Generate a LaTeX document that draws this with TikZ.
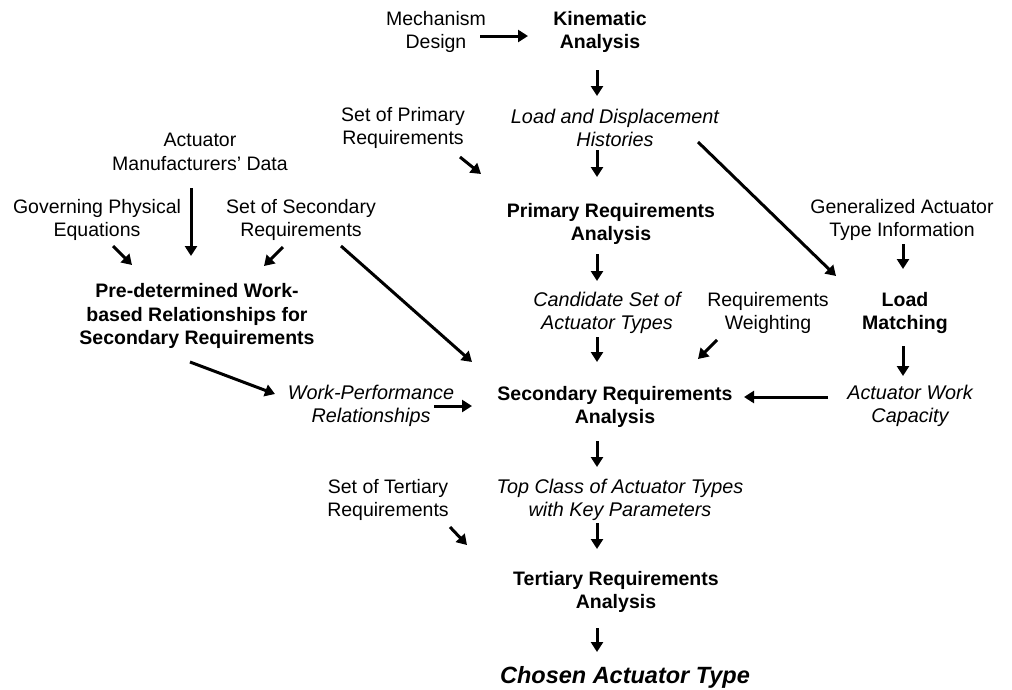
\documentclass[tikz,border=0pt]{standalone}
\usepackage{fontspec}
\setmainfont{Liberation Sans}
\usetikzlibrary{arrows.meta,calc}
\begin{document}
\begin{tikzpicture}[x=1pt,y=-1pt,
  lbl/.style={align=center,inner sep=0pt,font=\fontsize{19.5}{23.5}\selectfont},
  stage/.style={lbl,font=\fontsize{19.5}{23.5}\selectfont\bfseries},
  flow/.style={lbl,font=\fontsize{19.8}{23.5}\selectfont\itshape},
  arr/.style={line width=3pt,-{Triangle[length=10pt,width=12pt]}}]
\useasboundingbox (0,0) rectangle (1012,689);
% inputs and stages
\node[lbl]   (mech) at (436,32)  {Mechanism\\Design};
\node[stage] (kin)  at (600,32)  {Kinematic\\Analysis};
\node[flow]  (load) at (615,128) {Load and Displacement\\Histories};
\node[lbl]   (setp) at (403,128) {Set of Primary\\Requirements};
\node[stage] (prim) at (611,224) {Primary Requirements\\Analysis};
\node[lbl]   (gen)  at (902,220) {Generalized Actuator\\Type Information};
\node[stage] (lm)   at (905,313) {Load\\Matching};
\node[flow]  (awc)  at (910,406) {Actuator Work\\Capacity};
\node[lbl]   (amd)  at (200,152) {Actuator\\Manufacturers' Data};
\node[lbl]   (gov)  at (97,220)  {Governing Physical\\Equations};
\node[lbl]   (sets) at (301,220) {Set of Secondary\\Requirements};
\node[stage] (pre)  at (197,316) {Pre-determined Work-\\based Relationships for\\Secondary Requirements};
\node[flow]  (wp)   at (371,406) {Work-Performance\\Relationships};
\node[flow]  (cand) at (607,313) {Candidate Set of\\Actuator Types};
\node[lbl]   (rw)   at (768,313) {Requirements\\Weighting};
\node[stage] (sec)  at (615,407) {Secondary Requirements\\Analysis};
\node[lbl]   (sett) at (388,500) {Set of Tertiary\\Requirements};
\node[flow]  (top)  at (620,500) {Top Class of Actuator Types\\with Key Parameters};
\node[stage] (ter)  at (616,592) {Tertiary Requirements\\Analysis};
\node[inner sep=0pt,font=\fontsize{23.5}{26}\selectfont\bfseries\itshape] (chosen) at (625,677) {Chosen Actuator Type};
% connectors
\draw[arr] ($(mech)+(44,4)$)   -- ($(kin)+(-72,4)$);
\draw[arr] ($(kin)+(-3,38)$)   -- ($(load)+(-18,-32)$);
\draw[arr] ($(load)+(-18,22)$) -- ($(prim)+(-14,-47)$);
\draw[arr] ($(setp)+(57,29)$)  -- ($(prim)+(-130,-50)$);
\draw[arr] ($(load)+(83,14)$)  -- ($(lm)+(-69,-37)$);
\draw[arr] ($(gen)+(1,24)$)    -- ($(lm)+(-2,-44)$);
\draw[arr] ($(lm)+(-2,33)$)    -- ($(awc)+(-7,-30)$);
\draw[arr] ($(awc)+(-82,-9)$)  -- ($(sec)+(129,-10)$);
\draw[arr] ($(prim)+(-14,30)$) -- ($(cand)+(-10,-32)$);
\draw[arr] ($(cand)+(-10,24)$) -- ($(sec)+(-18,-45)$);
\draw[arr] ($(rw)+(-51,27)$)   -- ($(sec)+(83,-48)$);
\draw[arr] ($(amd)+(-9,36)$)   -- ($(pre)+(-6,-60)$);
\draw[arr] ($(gov)+(16,26)$)   -- ($(pre)+(-65,-51)$);
\draw[arr] ($(sets)+(-18,27)$) -- ($(pre)+(67,-50)$);
\draw[arr] ($(sets)+(40,26)$)  -- ($(sec)+(-143,-45)$);
\draw[arr] ($(pre)+(-7,46)$)   -- ($(wp)+(-96,-12)$);
\draw[arr] ($(wp)+(63,0)$)     -- ($(sec)+(-143,-1)$);
\draw[arr] ($(sec)+(-18,34)$)  -- ($(top)+(-23,-33)$);
\draw[arr] ($(sett)+(62,27)$)  -- ($(ter)+(-149,-47)$);
\draw[arr] ($(top)+(-23,23)$)  -- ($(ter)+(-19,-43)$);
\draw[arr] ($(ter)+(-19,36)$)  -- ($(chosen)+(-28,-25)$);
\end{tikzpicture}
\end{document}
